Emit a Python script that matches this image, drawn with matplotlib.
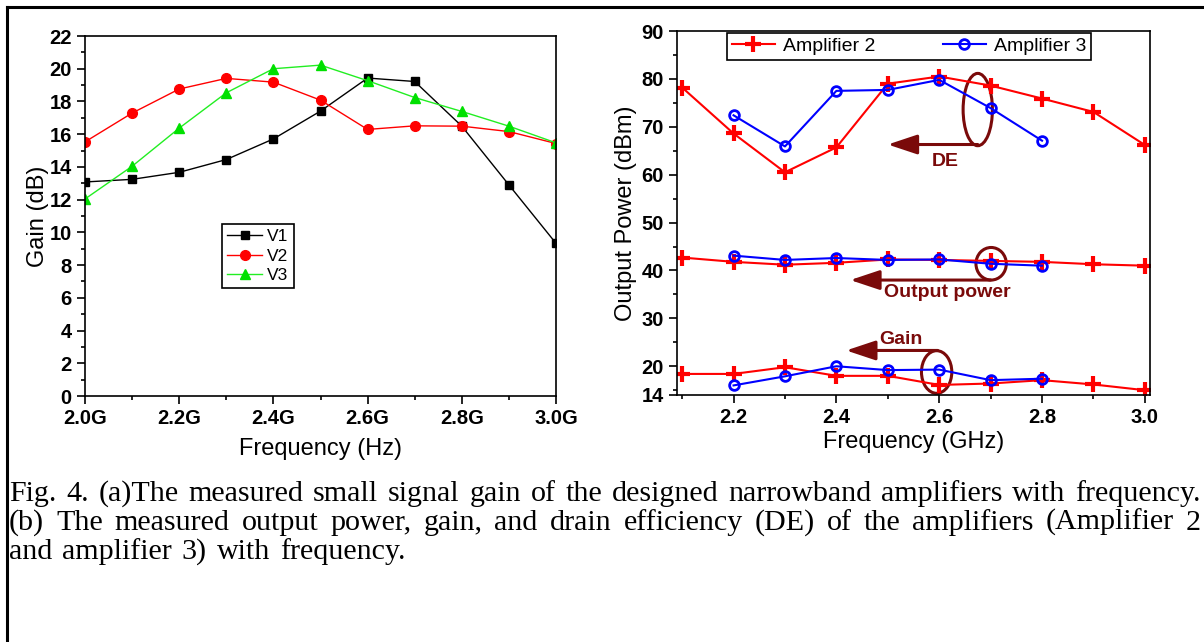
import numpy as np
import matplotlib
matplotlib.use("Agg")
import matplotlib.pyplot as plt
from matplotlib.lines import Line2D
from matplotlib.patches import Ellipse
from matplotlib.ticker import MultipleLocator

# ---- data (a): small signal gain ----
freq_a = [2.0, 2.1, 2.2, 2.3, 2.4, 2.5, 2.6, 2.7, 2.8, 2.9, 3.0]
gain_v1 = [13.08, 13.24, 13.67, 14.45, 15.71, 17.41, 19.43, 19.22, 16.49, 12.9, 9.33]
gain_v2 = [15.53, 17.29, 18.76, 19.41, 19.18, 18.08, 16.29, 16.51, 16.49, 16.16, 15.43]
gain_v3 = [12.04, 14.04, 16.37, 18.53, 20.0, 20.22, 19.27, 18.24, 17.39, 16.49, 15.47]
xticks_a = [2.0, 2.2, 2.4, 2.6, 2.8, 3.0]
xticklabels_a = ['2.0G', '2.2G', '2.4G', '2.6G', '2.8G', '3.0G']

# ---- data (b): DE, output power, gain ----
freq_amp2 = [2.1, 2.2, 2.3, 2.4, 2.5, 2.6, 2.7, 2.8, 2.9, 3.0]
de_amp2 = [78.2, 68.6, 60.5, 65.7, 79.0, 80.5, 78.6, 75.9, 73.1, 66.2]
pout_amp2 = [42.7, 41.8, 41.2, 41.6, 42.3, 42.2, 42.0, 41.8, 41.3, 41.0]
gain_amp2 = [18.4, 18.4, 19.8, 18.0, 18.0, 16.1, 16.4, 17.1, 16.2, 15.0]
freq_amp3 = [2.2, 2.3, 2.4, 2.5, 2.6, 2.7, 2.8]
de_amp3 = [72.4, 65.9, 77.5, 77.7, 79.8, 73.9, 67.1]
pout_amp3 = [43.1, 42.2, 42.6, 42.2, 42.3, 41.4, 41.0]
gain_amp3 = [16.0, 17.9, 20.0, 19.2, 19.3, 17.1, 17.4]
yticks_b = [14, 20, 30, 40, 50, 60, 70, 80, 90]

caption = [
    "Fig.  4. (a)The measured small signal gain of the designed narrowband amplifiers with frequency.",
    "(b) The measured output power, gain, and drain efficiency (DE) of the amplifiers (Amplifier 2",
    "and amplifier 3) with frequency.",
]

W, H = 1204, 642
plt.rcParams['font.family'] = ['Liberation Sans', 'DejaVu Sans']
fig = plt.figure(figsize=(W / 100, H / 100), dpi=100)
maroon = '#7a0a0a'


def px_axes(x0, y0, x1, y1):
    return fig.add_axes([x0 / W, 1 - y1 / H, (x1 - x0) / W, (y1 - y0) / H])


def style_ticks(ax):
    ax.tick_params(which='both', direction='out', top=False, right=False, width=1.2)
    ax.tick_params(which='major', length=6, labelsize=14.5)
    ax.tick_params(which='minor', length=3)
    for lab in ax.get_xticklabels() + ax.get_yticklabels():
        lab.set_fontweight('bold')
    for sp in ax.spines.values():
        sp.set_linewidth(1.2)


# ---- left panel ----
ax1 = px_axes(85, 36, 556, 396)
ax1.plot(freq_a, gain_v1, color='black', lw=1, marker='s', ms=6, label='V1')
ax1.plot(freq_a, gain_v2, color='red', lw=1, marker='o', ms=7, label='V2')
ax1.plot(freq_a, gain_v3, color='#22ee22', lw=1, marker='^', ms=7,
         mfc='#00e000', mec='#00e000', label='V3')
ax1.set_xlim(2.0, 3.0)
ax1.set_ylim(0, 22)
ax1.set_xticks(xticks_a)
ax1.set_xticklabels(xticklabels_a)
ax1.xaxis.set_minor_locator(MultipleLocator(0.1))
ax1.yaxis.set_major_locator(MultipleLocator(2))
ax1.yaxis.set_minor_locator(MultipleLocator(1))
style_ticks(ax1)
ax1.set_xlabel('Frequency (Hz)', fontsize=17, labelpad=7)
ax1.set_ylabel('Gain (dB)', fontsize=17, labelpad=0)
leg1 = ax1.legend(loc='upper left', bbox_to_anchor=(0.291, 0.478), fontsize=12.5,
                  frameon=True, fancybox=False, edgecolor='black', framealpha=1,
                  borderaxespad=0, borderpad=0.3, labelspacing=0.25,
                  handlelength=2.0, handletextpad=0.3)
leg1.get_frame().set_linewidth(1.2)

# ---- right panel ----
ax2 = px_axes(677, 31, 1150, 395)
for y2, y3 in [(de_amp2, de_amp3), (pout_amp2, pout_amp3), (gain_amp2, gain_amp3)]:
    ax2.plot(freq_amp2, y2, color='red', lw=1.5, marker='+', ms=11, mew=3)
    ax2.plot(freq_amp3, y3, color='blue', lw=1.5, marker='o', ms=7, mew=2,
             mfc='none')
ax2.set_xlim(2.09, 3.01)
ax2.set_ylim(14, 90)
ax2.set_xticks([2.2, 2.4, 2.6, 2.8, 3.0])
ax2.xaxis.set_minor_locator(MultipleLocator(0.1))
ax2.set_yticks(yticks_b)
ax2.set_yticks(np.arange(15, 90, 5), minor=True)
style_ticks(ax2)
ax2.set_xlabel('Frequency (GHz)', fontsize=17, labelpad=3)
ax2.set_ylabel('Output Power (dBm)', fontsize=17, labelpad=3)

handles = [Line2D([], [], color='red', lw=1.5, marker='+', ms=11, mew=3),
           Line2D([], [], color='blue', lw=1.5, marker='o', ms=7, mew=2, mfc='none')]
leg2 = ax2.legend(handles, ['Amplifier 2', 'Amplifier 3'], ncol=2, loc='upper left',
                  bbox_to_anchor=(0.106, 0.995), fontsize=14, frameon=True,
                  fancybox=False, edgecolor='black', framealpha=1, borderaxespad=0,
                  borderpad=0.25, handlelength=2.2, handletextpad=0.4,
                  columnspacing=3.5)
leg2.get_frame().set_linewidth(1.2)

# annotations: ellipses, arrows, labels
arrow = dict(arrowstyle='-|>,head_length=0.9,head_width=0.3', color=maroon, lw=2.2,
             shrinkA=0, shrinkB=0, mutation_scale=20)
for (cx, cy, w, h), (xs, ys, xe), (tx, ty, txt) in [
        ((2.675, 73.6, 0.057, 15.1), (2.675, 66.3, 2.50), (2.611, 62.8, 'DE')),
        ((2.701, 41.4, 0.059, 6.8), (2.70, 38.0, 2.427), (2.615, 35.4, 'Output power')),
        ((2.595, 18.8, 0.059, 8.9), (2.597, 23.3, 2.419), (2.526, 25.5, 'Gain'))]:
    ax2.add_patch(Ellipse((cx, cy), w, h, fill=False, ec=maroon, lw=2.2))
    ax2.annotate('', xy=(xe, ys), xytext=(xs, ys), arrowprops=arrow)
    ax2.text(tx, ty, txt, color=maroon, fontsize=14, fontweight='bold',
             ha='center', va='center')

# ---- outer frame (top and left edges) ----
fig.add_artist(Line2D([7 / W, 1], [1 - 7 / H, 1 - 7 / H], color='black', lw=2.2))
fig.add_artist(Line2D([7 / W, 7 / W], [0, 1 - 7 / H], color='black', lw=2.2))

# ---- caption, lines 1-2 justified ----
renderer = fig.canvas.get_renderer()
cap_font = dict(family='Liberation Serif', color='black')
probe = fig.text(0, 0, caption[0], fontsize=10, **cap_font)
natural = probe.get_window_extent(renderer).width
probe.remove()
cap_size = 10 * 1170 / natural


def put_line(line, y, justify):
    words = line.split()
    texts = [fig.text(0, 1 - y / H, w, fontsize=cap_size, va='baseline', **cap_font)
             for w in words]
    widths = [t.get_window_extent(renderer).width for t in texts]
    if justify:
        gap = (1192 - sum(widths)) / (len(words) - 1)
    else:
        gap = cap_size * 100 / 72 * 0.33
    x = 9
    for t, w in zip(texts, widths):
        t.set_x(x / W)
        x += w + gap


put_line(caption[0], 501, True)
put_line(caption[1], 530, True)
put_line(caption[2], 559, False)

fig.savefig('out.png', dpi=100)
